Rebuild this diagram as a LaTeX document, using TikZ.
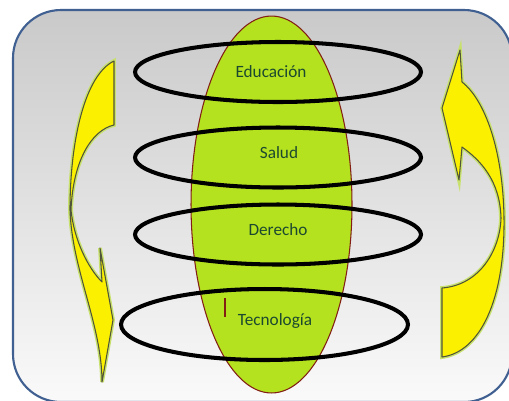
\documentclass[tikz,border=0pt]{standalone}
\usepackage{fontspec}
\setmainfont{Carlito}
\usetikzlibrary{shapes.geometric}
\definecolor{frameblue}{RGB}{64,96,146}
\definecolor{limegreen}{RGB}{180,226,30}
\definecolor{coreedge}{RGB}{130,30,20}
\definecolor{topicgreen}{RGB}{28,72,48}
\definecolor{swirlyellow}{RGB}{250,240,0}
\definecolor{swirledge}{RGB}{80,84,56}
\definecolor{swirlglow}{RGB}{200,225,110}

\begin{document}
\begin{tikzpicture}[x=0.02cm, y=-0.02cm,
                core/.style={
                        ellipse,
                        fill=limegreen,
                        draw=coreedge,
                        line width=0.6pt,
                        inner sep=0pt,
                        minimum width=3.22cm,
                        minimum height=7.54cm},
                ring/.style={
                        ellipse,
                        draw=black,
                        line width=2.3pt,
                        inner sep=0pt,
                        minimum width=5.72cm,
                        minimum height=1.2cm},
                topic/.style={
                        text=topicgreen,
                        inner sep=0pt,
                        font=\fontsize{9.8}{11}\selectfont},
                swirl/.style={
                        fill=swirlyellow,
                        draw=swirledge,
                        line width=0.6pt,
                        line join=round,
                        preaction={draw=swirlglow, line width=2.2pt}}]

                \useasboundingbox (0,0) rectangle (509,400);
                \clip (0,0) rectangle (509,400);

                % panel
                \draw[frameblue, line width=1.2pt, rounded corners=0.96cm,
                      top color=black!21, bottom color=white!98!black]
                      (13,10) rectangle (512,402);

                % curved arrows
                \draw[swirl] (114,61) -- (114,125)
                        .. controls (92,130) and (73,160) .. (71,210)
                        .. controls (74,240) and (88,268) .. (102,282)
                        -- (100,248) -- (113,320) -- (102,382)
                        .. controls (102,325) and (72,270) .. (70,210)
                        .. controls (70,140) and (85,75) .. (114,61) -- cycle;

                \draw[swirl] (460,50) -- (442,108) -- (459,180) -- (462,147)
                        .. controls (480,160) and (500,180) .. (501,218)
                        .. controls (500,250) and (480,285) .. (442,288)
                        -- (442,357)
                        .. controls (480,352) and (505,300) .. (504,218)
                        .. controls (503,150) and (485,100) .. (462,82) -- cycle;

                \node[core] (core) at (271.5,204.5) {};

                \node[ring] (r1) at (278,72) {};
                \node[ring] (r2) at (278,157.5) {};
                \node[ring] (r3) at (278,234.5) {};
                \node[ring, minimum width=5.74cm, minimum height=1.42cm] (r4) at (264.5,324.5) {};

                \node[topic] (educ) at (271,72) {Educación};
                \node[topic] (salud) at (279,153) {Salud};
                \node[topic] (der) at (278,230) {Derecho};
                \node[topic] (tec) at (275,321) {Tecnología};

                \draw[coreedge, line width=0.6pt] (225,298) -- (225,317);
            \end{tikzpicture}
\end{document}
